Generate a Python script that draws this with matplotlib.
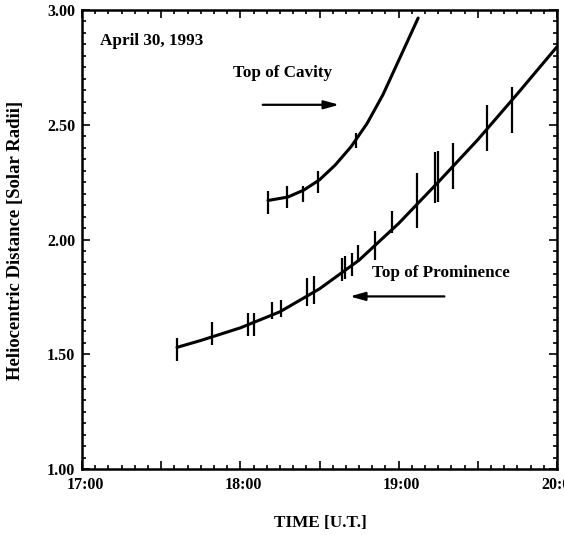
import matplotlib
matplotlib.use("Agg")
import matplotlib.pyplot as plt
import matplotlib.transforms as mtransforms
from matplotlib.ticker import MultipleLocator, FuncFormatter

# Top of prominence: measured heights (decimal hours U.T., solar radii, half error)
prom_time = [17.600, 17.821, 18.049, 18.087, 18.200, 18.257, 18.421, 18.465,
             18.642, 18.661, 18.706, 18.744, 18.851, 18.958, 19.116, 19.230,
             19.249, 19.344, 19.558, 19.716]
prom_dist = [1.52, 1.589, 1.628, 1.630, 1.689, 1.70, 1.772, 1.78,
             1.87, 1.88, 1.89, 1.941, 1.974, 2.078, 2.17, 2.27,
             2.275, 2.32, 2.485, 2.563]
prom_err = [0.05, 0.05, 0.05, 0.05, 0.037, 0.037, 0.06, 0.06,
            0.05, 0.05, 0.05, 0.033, 0.065, 0.048, 0.12, 0.11,
            0.11, 0.10, 0.10, 0.10]

# fitted curve for the prominence
prom_fit_time = [17.60, 17.75, 18.00, 18.25, 18.50, 18.75, 19.00, 19.25, 19.50, 19.75, 20.00]
prom_fit_dist = [1.530, 1.560, 1.615, 1.685, 1.785, 1.910, 2.070, 2.250, 2.435, 2.635, 2.840]

# Top of cavity: measured heights
cav_time = [18.175, 18.295, 18.396, 18.491, 18.731]
cav_dist = [2.163, 2.187, 2.200, 2.252, 2.430]
cav_err = [0.05, 0.048, 0.035, 0.048, 0.033]

# fitted curve for the cavity
cav_fit_time = [18.175, 18.30, 18.40, 18.50, 18.60, 18.70, 18.80, 18.90, 19.00, 19.123]
cav_fit_dist = [2.170, 2.185, 2.215, 2.260, 2.325, 2.405, 2.505, 2.630, 2.780, 2.965]

plt.rcParams["font.family"] = ["Liberation Serif", "DejaVu Serif"]
plt.rcParams["font.weight"] = "bold"

fig = plt.figure(figsize=(5.64, 5.35), dpi=100)
ax = fig.add_axes([82 / 564, 66 / 535, 475 / 564, 459 / 535])

ax.plot(prom_fit_time, prom_fit_dist, color="black", lw=2.2,
        solid_capstyle="round", solid_joinstyle="round")
ax.plot(cav_fit_time, cav_fit_dist, color="black", lw=2.2,
        solid_capstyle="round", solid_joinstyle="round")
ax.errorbar(prom_time, prom_dist, yerr=prom_err, fmt="none", ecolor="black",
            elinewidth=1.6, capsize=0)
ax.errorbar(cav_time, cav_dist, yerr=cav_err, fmt="none", ecolor="black",
            elinewidth=1.6, capsize=0)

ax.set_xlim(17, 20)
ax.set_ylim(1, 3)

ax.xaxis.set_major_locator(MultipleLocator(0.5))
ax.xaxis.set_minor_locator(MultipleLocator(1 / 12))
ax.yaxis.set_major_locator(MultipleLocator(0.5))
ax.yaxis.set_minor_locator(MultipleLocator(0.05))


def hour_fmt(v, pos):
    if abs(v - round(v)) < 1e-6:
        return f"{int(round(v))}:00"
    return ""


ax.xaxis.set_major_formatter(FuncFormatter(hour_fmt))
ax.yaxis.set_major_formatter(FuncFormatter(lambda v, p: f"{v:.2f}"))
ax.tick_params(which="both", direction="in", top=True, right=True, width=1.2,
               labelsize=11.5)
ax.tick_params(which="major", length=6)
ax.tick_params(axis="x", which="major", pad=6)
ax.tick_params(axis="y", which="major", pad=5)
ax.tick_params(which="minor", length=3)
for s in ax.spines.values():
    s.set_linewidth(1.8)

# scanned original has the time labels sitting a little right of their ticks
shift = mtransforms.ScaledTranslation(3 / 100, 0, fig.dpi_scale_trans)
for lab in ax.get_xticklabels():
    lab.set_transform(lab.get_transform() + shift)

ax.text(17.114, 2.865, "April 30, 1993", fontsize=12.3, fontweight="bold",
        ha="left", va="center")
ax.text(17.954, 2.726, "Top of Cavity", fontsize=12.3, fontweight="bold",
        ha="left", va="center")
ax.text(18.832, 1.852, "Top of Prominence", fontsize=12.3, fontweight="bold",
        ha="left", va="center")

arrow = dict(arrowstyle="-|>,head_length=0.9,head_width=0.25", color="black", lw=1.6)
ax.annotate("", xy=(18.642, 2.587), xytext=(18.124, 2.587), arrowprops=arrow)
ax.annotate("", xy=(18.674, 1.752), xytext=(19.306, 1.752), arrowprops=arrow)

fig.text(16 / 564, (535 - 240) / 535, "Heliocentric Distance [Solar Radii]",
         rotation=90, ha="center", va="center", fontsize=13.5, fontweight="bold")
fig.text(320 / 564, (535 - 523) / 535, "TIME [U.T.]", ha="center", va="center",
         fontsize=12.3, fontweight="bold")

fig.savefig("out.png", dpi=100)
